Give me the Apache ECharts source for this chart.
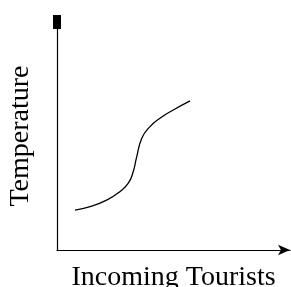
<!DOCTYPE html>
<html>
<head>
<meta charset="utf-8">
<script src="https://cdn.jsdelivr.net/npm/echarts@6/dist/echarts.min.js"></script>
<style>
  html, body { margin: 0; padding: 0; background: #fff; }
  #chart { width: 291px; height: 287px; }
</style>
</head>
<body>
<div id="chart"></div>
<script>
// in axis units (0..10 on both axes)
var tourists = [0.77, 1.42, 2.13, 2.70, 3.06, 3.27, 3.41, 3.64, 3.99, 4.42, 4.99, 5.71]
var temperature = [1.75, 1.90, 2.19, 2.56, 2.93, 3.43, 4.04, 4.90, 5.41, 5.78, 6.14, 6.54]
var xName = 'Incoming Tourists'
var yName = 'Temperature'

var points = tourists.map(function (x, i) { return [x, temperature[i]] })

var chart = echarts.init(document.getElementById('chart'))
var font = { fontFamily: 'Liberation Serif', fontSize: 28, color: '#000' }

chart.setOption({
  animation: false,
  grid: { left: 57, right: 1, top: 22, bottom: 37, containLabel: false, outerBoundsMode: 'none' },
  xAxis: {
    type: 'value',
    min: 0,
    max: 10,
    name: xName,
    nameLocation: 'middle',
    nameGap: 14,
    nameTextStyle: font,
    axisLine: {
      lineStyle: { color: '#000', width: 1.2 },
      symbol: ['none', 'arrow'],
      symbolSize: [8, 12]
    },
    axisTick: { show: false },
    axisLabel: { show: false },
    splitLine: { show: false }
  },
  yAxis: {
    type: 'value',
    min: 0,
    max: 10,
    name: yName,
    nameLocation: 'middle',
    nameRotate: 90,
    nameGap: 22,
    nameTextStyle: font,
    axisLine: {
      show: true,
      lineStyle: { color: '#000', width: 1.2 },
      symbol: ['none', 'rect'],
      symbolSize: [8, 14]
    },
    axisTick: { show: false },
    axisLabel: { show: false },
    splitLine: { show: false }
  },
  series: [{
    type: 'line',
    data: points,
    smooth: 0.5,
    symbol: 'none',
    lineStyle: { color: '#000', width: 1.3 }
  }]
})
</script>
</body>
</html>
